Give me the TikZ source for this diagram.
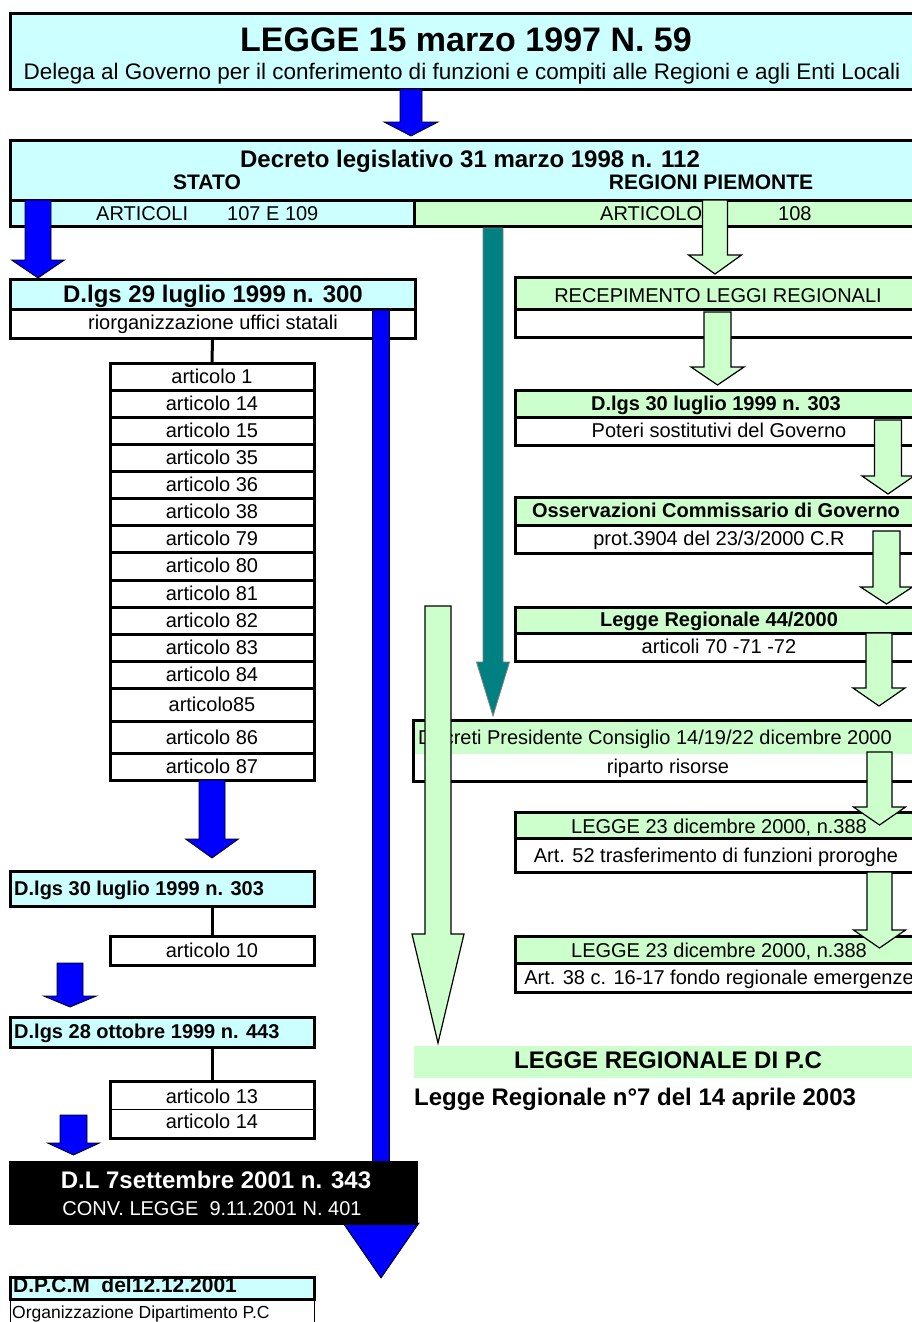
\documentclass[tikz,border=0pt]{standalone}
\usepackage{fontspec}
\setmainfont{Liberation Sans}

\definecolor{cy}{HTML}{CCFFFF}
\definecolor{gr}{HTML}{CCFFCC}
\definecolor{bl}{HTML}{0000FF}
\definecolor{tl}{HTML}{008080}

% a framed cell given by its corners: name, style, x1, y1, x2, y2
\newcommand\cellat[6]{\node[cell,#2,minimum width={(#5-#3)*1pt},minimum height={(#6-#4)*1pt}] (#1) at ({(#3+#5)/2},{(#4+#6)/2}) {};}
% a block arrow: style, centre x, top of shaft, base of head, tip, half shaft, half head
\newcommand\blockarrow[7]{\draw[#1] ({#2-#6},#3) -- ({#2+#6},#3) -- ({#2+#6},#4) -- ({#2+#7},#4) -- (#2,#5) -- ({#2-#7},#4) -- ({#2-#6},#4) -- cycle;}

\tikzset{
  cell/.style={draw=black, line width=3pt, inner sep=0pt, outer sep=0pt},
  txt/.style={inner sep=0pt, anchor=base, font=\fontsize{20}{24}\selectfont},
  txtb/.style={txt, font=\fontsize{20}{24}\selectfont\bfseries},
  txtB/.style={txt, font=\fontsize{24}{28}\selectfont\bfseries},
  conn/.style={draw=black, line width=3pt},
  bluearrow/.style={fill=bl, draw=black, line width=0.8pt},
  greenarrow/.style={fill=gr, draw=black, line width=1.2pt},
  tealarrow/.style={fill=tl, draw=gray, line width=0.8pt},
}

\begin{document}
\begin{tikzpicture}[x=1pt,y=-1pt]
\useasboundingbox (0,0) rectangle (912,1322);
\clip (0,0) rectangle (912,1322);
\fill[white] (0,0) rectangle (912,1322);

% ---- law header
\cellat{title}{fill=cy}{10}{14}{920}{89}
\node[txt, font=\fontsize{34}{40}\selectfont\bfseries] (titletxt) at (466,52) {LEGGE 15 marzo 1997 N. 59};
\node[txt, font=\fontsize{22.5}{26}\selectfont] (subtxt) at (462,80) {Delega al Governo per il conferimento di funzioni e compiti alle Regioni e agli Enti Locali};

% ---- legislative decree 112/1998
\cellat{dec}{fill=cy}{10}{140}{920}{200}
\cellat{decL}{fill=cy}{10}{200}{414}{226}
\cellat{decR}{fill=gr}{414}{200}{920}{226}
\node[txtB] (dectxt) at (470,167) {Decreto legislativo 31 marzo 1998 n. 112};
\node[txtb, font=\fontsize{21}{25}\selectfont\bfseries] (stato) at (207,189) {STATO};
\node[txtb, font=\fontsize{21}{25}\selectfont\bfseries] (regioni) at (711,189) {REGIONI PIEMONTE};
\node[txt, anchor=base west] (artL) at (96,220) {ARTICOLI};
\node[txt, anchor=base west] (artLn) at (227,220) {107 E 109};
\node[txt, anchor=base west] (artR) at (600,220) {ARTICOLO};
\node[txt, anchor=base west] (artRn) at (778,220) {108};

\blockarrow{bluearrow}{411}{89}{122}{136}{11}{27}
\blockarrow{bluearrow}{38}{200}{260}{278}{13}{26.5}

% ---- State branch
\cellat{d300h}{fill=cy}{10}{279}{415}{309}
\cellat{d300s}{fill=white}{10}{309}{415}{338}
\node[txtB] (d300t) at (213,302) {D.lgs 29 luglio 1999 n. 300};
\node[txt] (d300u) at (213,329) {riorganizzazione uffici statali};

\foreach \n/\ya/\yb/\bl/\lab in {1/363/390/383/articolo 1, 2/390/417/410/articolo 14,
  3/417/444/437/articolo 15, 4/444/471/464/articolo 35, 5/471/498/491/articolo 36,
  6/498/525/518/articolo 38, 7/525/552/545/articolo 79, 8/552/580/572/articolo 80,
  9/580/607/600/articolo 81, 10/607/634/627/articolo 82, 11/634/661/654/articolo 83,
  12/661/688/681/articolo 84, 13/688/721/711/articolo85, 14/721/753/744/articolo 86,
  15/753/780/773/articolo 87}{
  \cellat{art\n}{fill=white}{110}{\ya}{314}{\yb}
  \node[txt] (artt\n) at (212,\bl) {\lab};
}
\draw[conn] (d300s.south) -- (art1.north);

\blockarrow{bluearrow}{212}{780}{839}{858}{13}{26.5}

\cellat{d303L}{fill=cy}{10}{871}{314}{906}
\node[txtb, anchor=base west] (d303Lt) at (14,895) {D.lgs 30 luglio 1999 n. 303};
\cellat{art10}{fill=white}{110}{936}{314}{965}
\node[txt] (art10t) at (212,957) {articolo 10};
\draw[conn] (art10.north) -- (art10.north |- d303L.south);

\blockarrow{bluearrow}{70}{963}{996}{1007}{13}{26.5}

\cellat{d443}{fill=cy}{10}{1017}{314}{1047}
\node[txtb, anchor=base west] (d443t) at (14,1038) {D.lgs 28 ottobre 1999 n. 443};
\cellat{artb}{fill=white}{110}{1081}{314}{1138}
\draw[line width=1pt] (artb.west) -- (artb.east);
\node[txt] (art13t) at (212,1103) {articolo 13};
\node[txt] (art14t) at (212,1128) {articolo 14};
\draw[conn] (artb.north) -- (artb.north |- d443.south);

\blockarrow{bluearrow}{73.5}{1115}{1143}{1155}{13.5}{26}

% long arrow of the State branch
\blockarrow{bluearrow}{381}{310}{1223}{1278}{8.5}{38}

\cellat{dl}{fill=black}{10}{1162}{416}{1223}
\node[txtB, text=white] (dlt) at (216,1188) {D.L 7settembre 2001 n. 343};
\node[txt, text=white] (dlu) at (212,1215) {CONV. LEGGE~~9.11.2001 N. 401};

\cellat{dpcms}{fill=white, line width=1pt}{10}{1299}{314}{1340}
\cellat{dpcmh}{fill=cy}{10}{1277}{314}{1299}
\node[txtb, font=\fontsize{21}{25}\selectfont\bfseries, anchor=base west] (dpcmt) at (13,1292) {D.P.C.M~~del12.12.2001};
\node[txt, font=\fontsize{17.5}{20}\selectfont, anchor=base west] (dpcmu) at (12,1318) {Organizzazione Dipartimento P.C};

% ---- Regional branch
\cellat{recH}{fill=gr}{515}{277}{920}{309}
\cellat{recS}{fill=white}{515}{309}{920}{337}
\node[txt] (rect) at (718,302) {RECEPIMENTO LEGGI REGIONALI};

\cellat{d303Rh}{fill=gr}{515}{390}{920}{417}
\cellat{d303Rs}{fill=white}{515}{417}{920}{445}
\node[txtb] (d303Rt) at (716,410) {D.lgs 30 luglio 1999 n. 303};
\node[txt] (d303Ru) at (719,437) {Poteri sostitutivi del Governo};

\cellat{ossH}{fill=gr}{515}{497}{920}{525}
\cellat{ossS}{fill=white}{515}{525}{920}{553}
\node[txtb] (osst) at (716,517) {Osservazioni Commissario di Governo};
\node[txt] (ossu) at (719,545) {prot.3904 del 23/3/2000 C.R};

\cellat{lr44H}{fill=gr}{515}{607}{920}{633}
\cellat{lr44S}{fill=white}{515}{633}{920}{661}
\node[txtb] (lr44t) at (719,626) {Legge Regionale 44/2000};
\node[txt] (lr44u) at (719,653) {articoli 70 -71 -72};

\cellat{dpc}{fill=white}{413}{720}{920}{781}
\fill[gr] (414.5,721.5) rectangle (920,754);
\node[txt, anchor=base west] (dpct) at (418,744) {Decreti Presidente Consiglio 14/19/22 dicembre 2000};
\node[txt] (dpcu) at (668,773) {riparto risorse};

\cellat{l388aH}{fill=gr}{515}{812}{920}{838}
\cellat{l388aS}{fill=white}{515}{838}{920}{872}
\node[txt] (l388at) at (719,833) {LEGGE 23 dicembre 2000, n.388};
\node[txt] (l388au) at (716,862) {Art. 52 trasferimento di funzioni proroghe};

\cellat{l388bH}{fill=gr}{515}{936}{920}{963}
\cellat{l388bS}{fill=white}{515}{963}{920}{992}
\node[txt] (l388bt) at (719,957) {LEGGE 23 dicembre 2000, n.388};
\node[txt] (l388bu) at (719,984) {Art. 38 c. 16-17 fondo regionale emergenze};

\cellat{lrpc}{fill=gr, draw=none}{414}{1046}{920}{1078}
\node[txtB] (lrpct) at (668,1068) {LEGGE REGIONALE DI P.C};
\node[txtB, anchor=base west] (lr7) at (414,1105) {Legge Regionale n°7 del 14 aprile 2003};

% arrows of the Regional branch
\blockarrow{tealarrow}{493}{228}{662}{716}{10}{16.5}
\blockarrow{greenarrow}{715}{200}{255}{274}{12.5}{26.5}
\blockarrow{greenarrow}{717.5}{312}{367}{385}{13.5}{26.5}
\blockarrow{greenarrow}{888}{420}{476}{494}{13.5}{26}
\blockarrow{greenarrow}{886.5}{531}{587}{604}{13.5}{26}
\blockarrow{greenarrow}{879}{633}{688}{706}{13}{26}
\blockarrow{greenarrow}{879.5}{752}{807}{825}{12.5}{26}
\blockarrow{greenarrow}{879.5}{872}{930}{948}{12.5}{26}
\blockarrow{greenarrow}{438}{606}{934}{1043}{13}{26}
\end{tikzpicture}
\end{document}
